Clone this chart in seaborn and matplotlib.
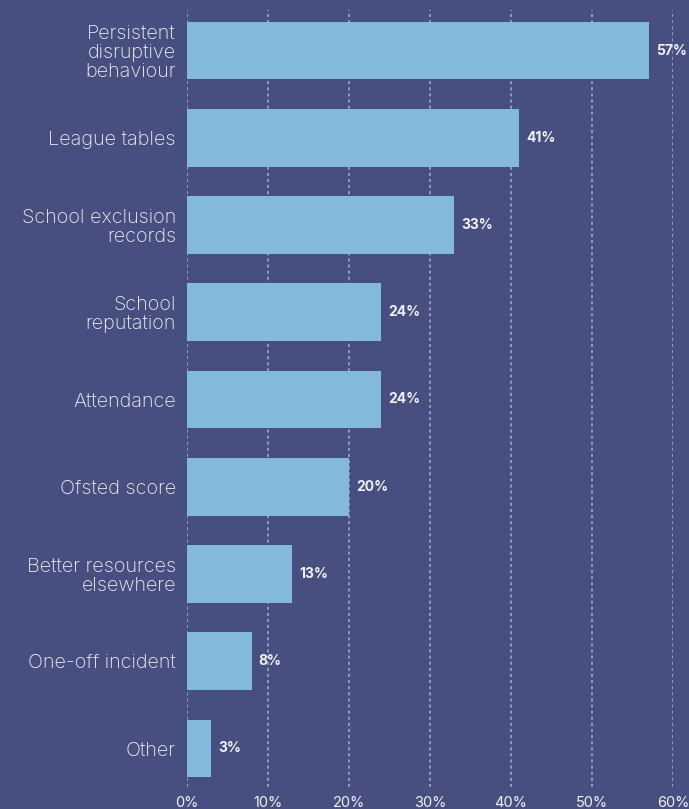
import matplotlib
matplotlib.use("Agg")
import matplotlib.pyplot as plt
import seaborn as sns
import pandas as pd

# Reasons given, with share of respondents (%)
reasons = [
    "Persistent\ndisruptive\nbehaviour",
    "League tables",
    "School exclusion\nrecords",
    "School\nreputation",
    "Attendance",
    "Ofsted score",
    "Better resources\nelsewhere",
    "One-off incident",
    "Other",
]
shares = [57, 41, 33, 24, 24, 20, 13, 8, 3]
tick_values = [0, 10, 20, 30, 40, 50, 60]
tick_labels = ["0%", "10%", "20%", "30%", "40%", "50%", "60%"]

BG = "#474f80"
BAR = "#83b9da"
TEXT = "#f0f0f6"
GRID = "#a9adcb"

sns.set_theme(style="white")
plt.rcParams["font.family"] = ["Inter", "DejaVu Sans"]

df = pd.DataFrame({"reason": reasons, "share": shares})

fig = plt.figure(figsize=(6.89, 8.09), dpi=100, facecolor=BG)
ax = fig.add_axes([187 / 689, (809 - 792) / 809, (673 - 187) / 689, (792 - 7) / 809])
ax.set_facecolor(BG)

sns.barplot(data=df, x="share", y="reason", orient="h", color=BAR,
            saturation=1, width=0.66, linewidth=0, ax=ax, zorder=2)

ax.set_xlim(0, 60)
ax.set_ylim(8.5, -0.5)
ax.set_xticks(tick_values)
ax.set_xticklabels(tick_labels)
ax.set_xlabel("")
ax.set_ylabel("")

for v in tick_values:
    ax.axvline(v, ymin=0.006, ymax=0.996, color=GRID, linestyle=(0, (2, 2)),
               linewidth=1.1, zorder=1)

for s in ax.spines.values():
    s.set_visible(False)

ax.tick_params(axis="x", length=0, pad=3, labelsize=10.5, labelcolor=TEXT)
ax.tick_params(axis="y", length=0, pad=8, labelsize=14.3, labelcolor=TEXT)
for lab in ax.get_yticklabels():
    lab.set_multialignment("right")
    lab.set_linespacing(1.05)
    lab.set_fontweight("light")

for i, v in enumerate(shares):
    ax.annotate(f"{v}%", xy=(v, i), xytext=(5, 0), textcoords="offset points",
                va="center", ha="left", color=TEXT, fontsize=10,
                fontweight="bold")

fig.savefig("out.png", dpi=100, facecolor=BG)
